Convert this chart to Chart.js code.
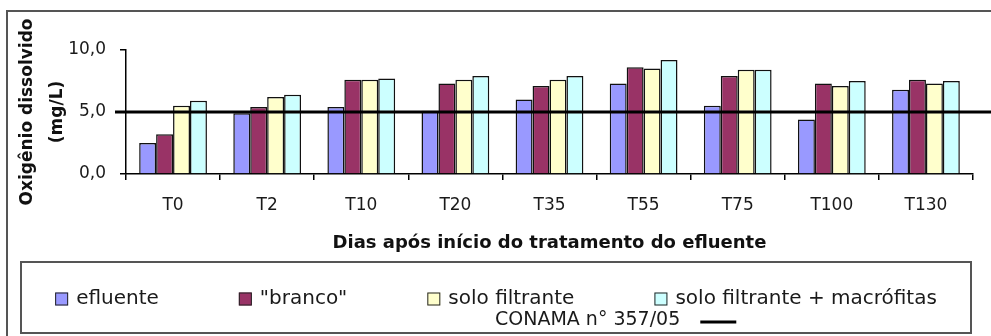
<!DOCTYPE html>
<html lang="pt-BR">
<head>
<meta charset="utf-8">
<title>Oxigênio dissolvido</title>
<script src="https://cdn.jsdelivr.net/npm/chart.js@4.4.1/dist/chart.umd.min.js"></script>
<style>
    html, body { margin: 0; padding: 0; background: #fff; }
    canvas { display: block; }
</style>
</head>
<body>
<canvas id="oxygenChart" width="991" height="336"></canvas>
<script>
// Chart data
const categories = ['T0', 'T2', 'T10', 'T20', 'T35', 'T55', 'T75', 'T100', 'T130'];
const efluente = [2.5, 4.9, 5.4, 5.1, 6.0, 7.3, 5.5, 4.4, 6.8];
const branco = [3.2, 5.4, 7.6, 7.3, 7.1, 8.6, 7.9, 7.3, 7.6];
const soloFiltrante = [5.5, 6.2, 7.6, 7.6, 7.6, 8.5, 8.4, 7.1, 7.3];
const soloMacrofitas = [5.9, 6.4, 7.7, 7.9, 7.9, 9.2, 8.4, 7.5, 7.5];
const yTicks = [0, 5, 10];
const conamaLimit = 5.0;
const conamaLabel = 'CONAMA n° 357/05';

Chart.defaults.font.family = "'DejaVu Sans', sans-serif";
Chart.defaults.color = '#1a1a1a';

// CONAMA limit line, drawn on top of the bars
const conamaLine = {
    id: 'conamaLine',
    afterDatasetsDraw(chart) {
        const { ctx, chartArea, scales: { y } } = chart;
        const py = y.getPixelForValue(conamaLimit);
        ctx.save();
        ctx.strokeStyle = '#000';
        ctx.lineWidth = 3;
        ctx.beginPath();
        ctx.moveTo(chartArea.left - 11, py);
        ctx.lineTo(chart.width, py);
        ctx.stroke();
        ctx.restore();
    }
};

// Outer frame and the boxed legend under the axis title
const legendBox = {
    id: 'legendBox',
    afterDraw(chart) {
        const { ctx } = chart;
        ctx.save();
        ctx.strokeStyle = '#555';
        ctx.lineWidth = 2;
        ctx.beginPath();
        ctx.moveTo(chart.width, 11);
        ctx.lineTo(7, 11);
        ctx.lineTo(7, chart.height);
        ctx.stroke();

        const box = { left: 21, top: 262, right: 971, bottom: 333 };
        ctx.strokeRect(box.left, box.top, box.right - box.left, box.bottom - box.top);

        // row 1: one entry per dataset
        ctx.font = "20px 'DejaVu Sans', sans-serif";
        ctx.textBaseline = 'middle';
        ctx.textAlign = 'left';
        const sq = 13, gap = 8, spacing = 80, rowY = 299;
        const items = chart.data.datasets.map(ds => ({
            ds,
            w: sq + gap + ctx.measureText(ds.label).width
        }));
        const total = items.reduce((s, it) => s + it.w, 0) + spacing * (items.length - 1);
        let x = (box.left + box.right) / 2 - total / 2;
        items.forEach(it => {
            ctx.fillStyle = it.ds.backgroundColor;
            ctx.fillRect(x, rowY - sq / 2, sq, sq);
            ctx.lineWidth = 1;
            ctx.strokeStyle = '#222';
            ctx.strokeRect(x + 0.5, rowY - sq / 2 + 0.5, sq - 1, sq - 1);
            ctx.fillStyle = '#1a1a1a';
            ctx.fillText(it.ds.label, x + sq + gap, rowY);
            x += it.w + spacing;
        });

        // row 2: CONAMA reference line
        ctx.font = "19px 'DejaVu Sans', sans-serif";
        const cx = (box.left + box.right) / 2 - 1;
        ctx.fillText(conamaLabel, cx, 320);
        const lx = cx + ctx.measureText(conamaLabel).width + 20;
        ctx.strokeStyle = '#000';
        ctx.lineWidth = 3;
        ctx.beginPath();
        ctx.moveTo(lx, 322);
        ctx.lineTo(lx + 36, 322);
        ctx.stroke();
        ctx.restore();
    }
};

const ctx = document.getElementById('oxygenChart').getContext('2d');
const oxygenChart = new Chart(ctx, {
    type: 'bar',
    data: {
        labels: categories,
        datasets: [
            { label: 'efluente', data: efluente, backgroundColor: '#9999FF' },
            { label: '"branco"', data: branco, backgroundColor: '#993366' },
            { label: 'solo filtrante', data: soloFiltrante, backgroundColor: '#FFFFCC' },
            { label: 'solo filtrante + macrófitas', data: soloMacrofitas, backgroundColor: '#CCFFFF' }
        ]
    },
    options: {
        responsive: false,
        animation: false,
        layout: {
            padding: { left: 8, right: 18, top: 50, bottom: 80 }
        },
        datasets: {
            bar: {
                categoryPercentage: 0.72,
                barPercentage: 1,
                borderWidth: 1.5,
                borderColor: '#111'
            }
        },
        plugins: {
            legend: { display: false },
            tooltip: { enabled: false }
        },
        scales: {
            x: {
                grid: {
                    offset: true,
                    drawOnChartArea: false,
                    tickLength: 6,
                    color: '#000',
                    lineWidth: 1.5
                },
                border: { color: '#000', width: 1.5 },
                ticks: {
                    font: { size: 17 },
                    padding: 15,
                    maxRotation: 0
                },
                title: {
                    display: true,
                    text: 'Dias após início do tratamento do efluente',
                    font: { size: 18, weight: 'bold' },
                    color: '#111',
                    padding: { top: 0, bottom: 2 }
                },
                afterFit(scale) { scale.height = 82; }
            },
            y: {
                min: 0,
                max: 10,
                afterBuildTicks(scale) {
                    scale.ticks = yTicks.map(v => ({ value: v }));
                },
                grid: {
                    drawOnChartArea: false,
                    tickLength: 6,
                    color: '#000',
                    lineWidth: 1.5
                },
                border: { color: '#000', width: 1.5 },
                ticks: {
                    font: { size: 17 },
                    padding: 14,
                    callback: v => v.toFixed(1).replace('.', ',')
                },
                title: {
                    display: true,
                    text: ['Oxigênio dissolvido', '(mg/L)'],
                    font: { size: 17, weight: 'bold', lineHeight: 1.79 },
                    color: '#111',
                    padding: { top: 4, bottom: 0 }
                },
                afterFit(scale) { scale.width = 118; }
            }
        }
    },
    plugins: [conamaLine, legendBox]
});
</script>
</body>
</html>
